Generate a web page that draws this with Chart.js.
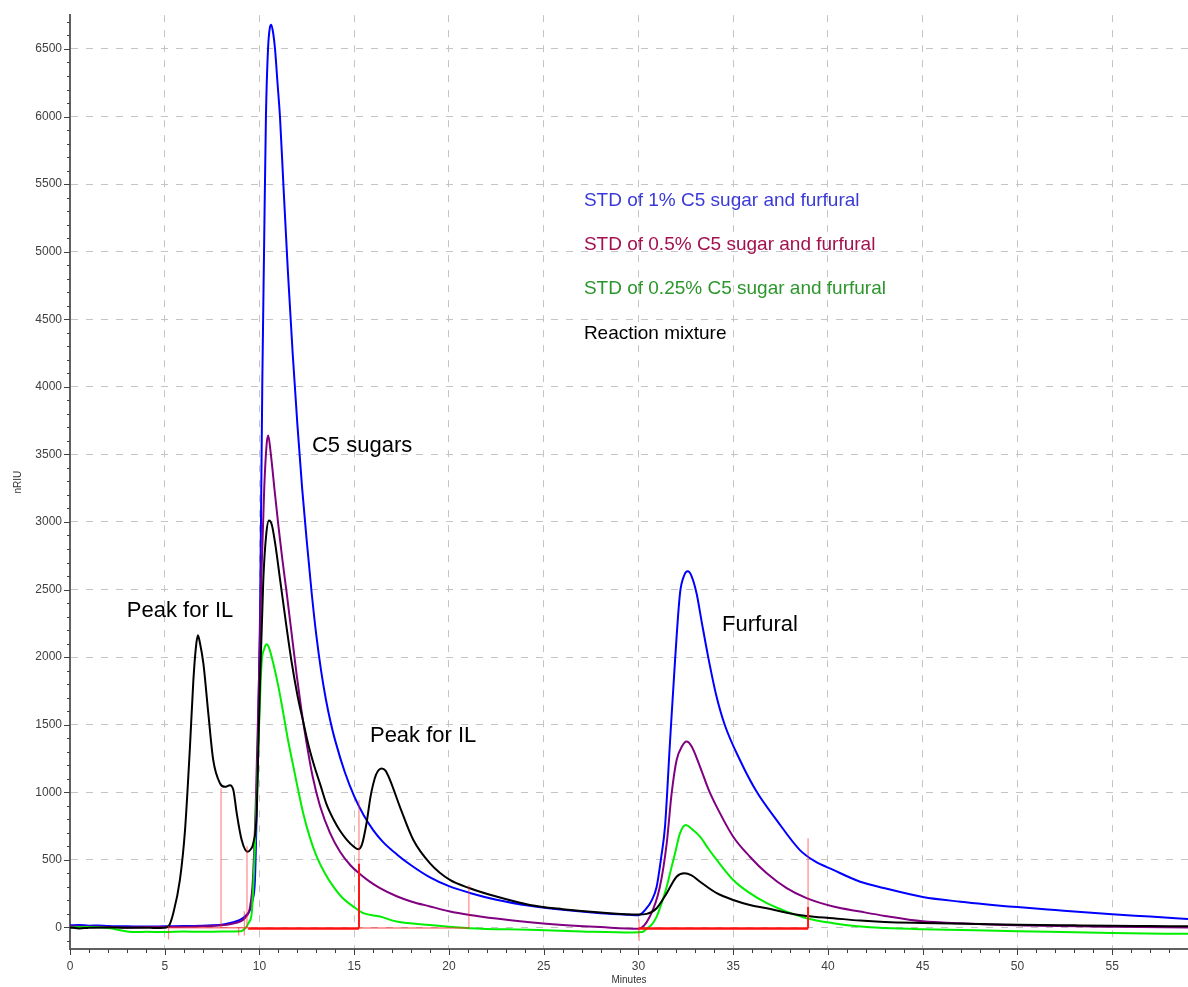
<!DOCTYPE html>
<html>
<head>
<meta charset="utf-8">
<script src="https://cdn.jsdelivr.net/npm/chart.js@4.4.1/dist/chart.umd.min.js"></script>
<style>
  html, body { margin: 0; padding: 0; background: #ffffff; }
  #wrap { width: 1188px; height: 987px; }
</style>
</head>
<body>
<div id="wrap"><canvas id="chart" width="1188" height="987"></canvas></div>
<script>
// Retention time (minutes) and refractive index response (nRIU) of each trace
const std1Time = [0, 0.5, 1, 1.5, 2, 3, 4, 5, 6, 7, 7.5, 8, 8.5, 8.97, 9.3, 9.5, 9.65, 9.76, 9.85, 9.94, 10.03, 10.15, 10.24, 10.34, 10.45, 10.55, 10.62, 10.72, 10.82, 10.95, 11.08, 11.26, 11.5, 11.75, 12.0, 12.25, 12.5, 12.75, 13.0, 13.25, 13.5, 13.75, 14.0, 14.5, 15.0, 15.5, 16.0, 16.5, 17.25, 18, 19, 20, 21.1, 22.5, 24.27, 26, 28, 29.5, 30, 30.43, 30.7, 30.96, 31.2, 31.4, 31.66, 31.93, 32.19, 32.4, 32.6, 32.8, 33.07, 33.35, 33.68, 34.1, 34.56, 35.36, 36.24, 37.29, 38.52, 39.3, 40.28, 41.7, 43, 45, 47, 50, 52, 55, 57, 59];
const std1Signal = [15, 18, 12, 14, 10, 8, 6, 8, 10, 12, 15, 20, 35, 55, 90, 130, 210, 350, 850, 1580, 2320, 4050, 5000, 6000, 6500, 6660, 6680, 6620, 6500, 6250, 6000, 5500, 4850, 4250, 3720, 3250, 2850, 2480, 2160, 1900, 1690, 1520, 1380, 1150, 970, 830, 720, 635, 540, 460, 370, 305, 255, 205, 160, 130, 105, 93, 90, 142, 200, 301, 520, 745, 1363, 1976, 2470, 2600, 2635, 2600, 2469, 2250, 2000, 1720, 1496, 1237, 1003, 794, 572, 490, 425, 338, 290, 225, 190, 150, 128, 97, 80, 62];

const std05Time = [0, 1, 2, 3, 4, 5, 6, 7, 8, 8.5, 9, 9.3, 9.5, 9.65, 9.8, 9.95, 10.1, 10.25, 10.38, 10.46, 10.6, 10.8, 11.0, 11.2, 11.43, 11.7, 11.96, 12.2, 12.49, 12.8, 13.19, 13.72, 14.25, 14.8, 15.3, 15.8, 16.36, 17.24, 18, 19, 20, 21.1, 22.5, 24.27, 26, 28, 30, 30.6, 31.13, 31.49, 31.75, 32.01, 32.3, 32.54, 32.8, 33.25, 33.7, 34.13, 35.0, 35.88, 36.77, 37.82, 38.87, 40.28, 41.7, 43, 45, 47, 50, 55, 59];
const std05Signal = [8, 5, 3, 0, 2, 3, 5, 8, 15, 25, 45, 80, 150, 350, 900, 1700, 2600, 3250, 3580, 3640, 3500, 3230, 2970, 2730, 2480, 2170, 1870, 1620, 1360, 1120, 900, 700, 560, 460, 395, 340, 290, 230, 192, 155, 120, 92, 65, 38, 18, 2, -10, 80, 301, 622, 991, 1237, 1340, 1375, 1340, 1188, 1020, 892, 671, 523, 400, 290, 216, 154, 117, 85, 45, 30, 15, 5, 0];

const std025Time = [0, 1, 2, 3, 3.5, 4, 5, 6, 7, 8, 9, 9.32, 9.45, 9.59, 9.76, 9.94, 10.11, 10.25, 10.38, 10.5, 10.73, 11.0, 11.26, 11.5, 11.79, 12.05, 12.31, 12.65, 13.02, 13.45, 13.9, 14.4, 14.95, 15.48, 16.36, 17.24, 19.0, 21.1, 24.27, 27, 29.7, 30.2, 30.43, 30.7, 30.96, 31.2, 31.49, 31.7, 31.93, 32.19, 32.5, 32.8, 33.25, 33.7, 34.13, 35.0, 35.88, 36.77, 37.82, 38.87, 40.28, 41.7, 43, 45, 50, 55, 59];
const std025Signal = [0, 2, -5, -30, -35, -32, -35, -30, -33, -30, -28, 6, 40, 105, 597, 1335, 1952, 2060, 2095, 2070, 1952, 1780, 1582, 1390, 1188, 1010, 843, 670, 523, 400, 301, 215, 154, 105, 80, 43, 18, -6, -18, -30, -38, -35, -10, 20, 80, 170, 301, 420, 548, 696, 757, 730, 671, 580, 499, 351, 253, 179, 117, 68, 31, 6, -5, -14, -28, -42, -48];

const mixtureTime = [0, 0.5, 1, 2, 3, 4, 4.5, 5, 5.19, 5.45, 5.8, 6.07, 6.33, 6.51, 6.65, 6.75, 6.85, 7.04, 7.3, 7.56, 7.92, 8.18, 8.44, 8.62, 8.8, 9.06, 9.36, 9.55, 9.67, 9.85, 9.94, 10.03, 10.2, 10.35, 10.5, 10.65, 10.85, 11.08, 11.4, 11.7, 12.0, 12.31, 12.6, 12.9, 13.2, 13.54, 13.9, 14.25, 14.6, 14.95, 15.2, 15.4, 15.66, 15.85, 16.0, 16.15, 16.3, 16.45, 16.65, 16.89, 17.41, 18.12, 19.0, 20.05, 21.1, 22.5, 24.27, 26, 28, 30, 30.43, 30.96, 31.49, 32.01, 32.42, 32.8, 33.25, 34.13, 35.0, 35.88, 36.77, 37.82, 38.87, 40.28, 41.7, 43, 45, 48, 50, 53, 55, 57, 59];
const mixtureSignal = [0, -8, -2, 0, -3, -2, -5, -3, 6, 105, 351, 720, 1335, 1828, 2080, 2161, 2110, 1952, 1582, 1237, 1065, 1040, 1052, 1016, 843, 646, 560, 580, 622, 843, 1335, 1828, 2567, 2900, 3010, 2980, 2820, 2580, 2250, 1960, 1720, 1520, 1340, 1190, 1060, 910, 800, 715, 650, 600, 578, 610, 780, 960, 1060, 1130, 1165, 1176, 1160, 1090, 892, 646, 474, 351, 290, 228, 166, 135, 110, 95, 100, 142, 253, 375, 400, 385, 338, 253, 203, 166, 142, 109, 85, 68, 50, 40, 33, 25, 20, 15, 12, 10, 8];

// Integration marks: baselines [start, end, level] and drop lines [time, low, high]
const baselineBold = [[9.4, 15.25, -8], [30.0, 38.95, -8]];
const baselineThin = [[5.2, 9.4, -3], [15.25, 21.05, -5]];
const dropLinesThin = [[5.2, -90, 10], [7.97, -5, 1030], [8.9, -60, 0], [9.2, -60, 120], [9.34, -5, 600], [15.25, -5, 940], [21.05, -5, 313], [30.03, -100, 60], [38.95, -5, 660]];
const dropLinesBold = [[15.25, -8, 470], [38.95, -8, 150]];

// Axis ticks
const timeTicks = [0, 5, 10, 15, 20, 25, 30, 35, 40, 45, 50, 55];
const signalTicks = [0, 500, 1000, 1500, 2000, 2500, 3000, 3500, 4000, 4500, 5000, 5500, 6000, 6500];

// Trace names and peak labels
const seriesNames = ['STD of 1% C5 sugar and furfural', 'STD of 0.5% C5 sugar and furfural', 'STD of 0.25% C5 sugar and furfural', 'Reaction mixture'];
const peakNames = ['Peak for IL', 'C5 sugars', 'Peak for IL', 'Furfural'];

// Layout of the text drawn on the plot (data coordinates)
const peakNameAnchors = [[3.0, 2294], [12.77, 3520], [15.83, 1370], [34.41, 2190]];
const legendAnchor = { t: 27.12, v: 5339, step: 44.3 };
const lineColors = ['#0000ff', '#800080', '#00ee00', '#000000'];
const legendColors = ['#3a3ad8', '#a3104f', '#2c962c', '#000000'];

function pairs(ts, vs) { return ts.map((t, i) => ({ x: t, y: vs[i] })); }
function segs(list, horizontal) {
  const out = [];
  list.forEach(s => {
    if (horizontal) { out.push({ x: s[0], y: s[2] }, { x: s[1], y: s[2] }); }
    else { out.push({ x: s[0], y: s[1] }, { x: s[0], y: s[2] }); }
    out.push({ x: horizontal ? s[1] : s[0], y: null });
  });
  return out;
}

const FONT = '"Liberation Sans", Arial, sans-serif';

const traceStyle = (label, data, color, order) => ({
  label, data, borderColor: color, borderWidth: 2, pointRadius: 0,
  cubicInterpolationMode: 'monotone', fill: false, order
});
const markStyle = (data, color, width) => ({
  label: '', data, borderColor: color, borderWidth: width, pointRadius: 0,
  tension: 0, spanGaps: false, fill: false, order: 0
});

const tickMarks = {
  id: 'tickMarks',
  afterDraw(chart) {
    const { ctx, scales: { x, y } } = chart;
    ctx.save();
    ctx.strokeStyle = '#404040';
    ctx.lineWidth = 1;
    for (let v = Math.ceil(x.min); v <= x.max; v++) {
      const px = Math.round(x.getPixelForValue(v)) + 0.5;
      const len = v % 5 === 0 ? 6 : 4;
      ctx.beginPath(); ctx.moveTo(px, x.top); ctx.lineTo(px, x.top + len); ctx.stroke();
    }
    for (let v = -100; v <= y.max; v += 100) {
      const py = Math.round(y.getPixelForValue(v)) + 0.5;
      const len = v % 500 === 0 ? 6 : 3;
      ctx.beginPath(); ctx.moveTo(y.right, py); ctx.lineTo(y.right - len, py); ctx.stroke();
    }
    ctx.restore();
  }
};

const textLayer = {
  id: 'textLayer',
  afterDatasetsDraw(chart) {
    const { ctx, scales: { x, y } } = chart;
    ctx.save();
    ctx.textAlign = 'left';
    ctx.textBaseline = 'alphabetic';
    ctx.font = '22px ' + FONT;
    ctx.fillStyle = '#000000';
    peakNames.forEach((name, i) => {
      const a = peakNameAnchors[i];
      ctx.fillText(name, x.getPixelForValue(a[0]), y.getPixelForValue(a[1]));
    });
    ctx.font = '19px ' + FONT;
    const lx = x.getPixelForValue(legendAnchor.t);
    const ly = y.getPixelForValue(legendAnchor.v);
    seriesNames.forEach((name, i) => {
      ctx.fillStyle = legendColors[i];
      ctx.fillText(name, lx, ly + i * legendAnchor.step);
    });
    ctx.restore();
  }
};

new Chart(document.getElementById('chart'), {
  type: 'line',
  data: {
    datasets: [
      traceStyle(seriesNames[0], pairs(std1Time, std1Signal), lineColors[0], 4),
      traceStyle(seriesNames[1], pairs(std05Time, std05Signal), lineColors[1], 3),
      traceStyle(seriesNames[2], pairs(std025Time, std025Signal), lineColors[2], 2),
      traceStyle(seriesNames[3], pairs(mixtureTime, mixtureSignal), lineColors[3], 1),
      markStyle(segs(dropLinesThin, false), 'rgba(255, 40, 40, 0.55)', 1.2),
      markStyle(segs(baselineThin, true), 'rgba(255, 40, 40, 0.6)', 1.5),
      markStyle(segs(baselineBold, true), '#ff1010', 2.5),
      markStyle(segs(dropLinesBold, false), '#ff1010', 2)
    ]
  },
  options: {
    responsive: false,
    animation: false,
    devicePixelRatio: 1,
    layout: { padding: { top: 14, right: 0, left: 0, bottom: 0 } },
    plugins: { legend: { display: false }, tooltip: { enabled: false } },
    scales: {
      x: {
        type: 'linear', min: 0, max: 59,
        afterBuildTicks(scale) { scale.ticks = timeTicks.map(v => ({ value: v })); },
        afterFit(scale) { scale.height = 38; },
        ticks: { font: { family: FONT, size: 12 }, color: '#404040', padding: 10, maxRotation: 0, autoSkip: false, callback: v => String(v) },
        grid: { color: '#c4c4c4', lineWidth: 1, drawTicks: false },
        border: { display: true, color: '#606060', width: 2, dash: [7, 8] },
        title: { display: true, text: 'Minutes', font: { family: FONT, size: 10 }, color: '#333333', padding: { top: 0, bottom: 1 } }
      },
      y: {
        type: 'linear', min: -160, max: 6750,
        afterBuildTicks(scale) { scale.ticks = signalTicks.map(v => ({ value: v })); },
        afterFit(scale) { scale.width = 70; },
        ticks: { font: { family: FONT, size: 12 }, color: '#404040', padding: 8, autoSkip: false, callback: v => String(v) },
        grid: { color: '#c4c4c4', lineWidth: 1, drawTicks: false },
        border: { display: true, color: '#606060', width: 2, dash: [7, 8] },
        title: { display: true, text: 'nRIU', font: { family: FONT, size: 10 }, color: '#333333', padding: { top: 12, bottom: 0 } }
      }
    }
  },
  plugins: [tickMarks, textLayer]
});
</script>
</body>
</html>
